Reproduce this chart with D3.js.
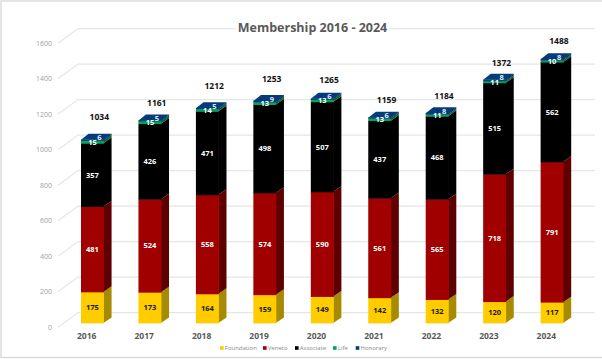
<!DOCTYPE html>
<html><head><meta charset="utf-8">
<script src="https://cdn.jsdelivr.net/npm/d3@7"></script>
<style>html,body{margin:0;padding:0;background:#fff}svg{display:block}text{font-family:"Open Sans",sans-serif}</style>
</head><body><div id="c"></div>
<script>
const years=["2016","2017","2018","2019","2020","2021","2022","2023","2024"];
const foundation=[175,173,164,159,149,142,132,120,117];
const veneto=[481,524,558,574,590,561,565,718,791];
const associate=[357,426,471,498,507,437,468,515,562];
const life=[15,15,14,13,13,13,11,11,10];
const honorary=[6,5,5,9,6,6,8,8,8];
const totals=[1034,1161,1212,1253,1265,1159,1184,1372,1488];
const yTicks=[0,200,400,600,800,1000,1200,1400,1600];
const seriesNames=["Foundation","Veneto","Associate","Life","Honorary"];

const W=602,H=359;
const palette={Foundation:["#ffcc00","#a68a00","#1a1a00"],Veneto:["#a00000","#5f0000","#fff"],Associate:["#000","#000","#fff"],Life:["#00a558","#00663a","#fff"],Honorary:["#063b7a","#04264f","#dfeaff"]};
const table=years.map((y,i)=>({year:y,Foundation:foundation[i],Veneto:veneto[i],Associate:associate[i],Life:life[i],Honorary:honorary[i]}));
const stacked=d3.stack().keys(seriesNames)(table);

const svg=d3.select("#c").append("svg").attr("width",W).attr("height",H);
svg.append("rect").attr("width",W).attr("height",H).attr("fill","#fff");
const frame=d3.path();frame.moveTo(1,H-1);frame.lineTo(1,1);frame.lineTo(W,1);frame.moveTo(1,H-1.5);frame.lineTo(W,H-1.5);
svg.append("path").attr("d",frame.toString()).attr("fill","none").attr("stroke","#dcdcdc").attr("stroke-width",1.5);

const x=d3.scaleBand().domain(years).range([81,563.6]).paddingInner(0.6).paddingOuter(0);
const y=d3.scaleLinear().domain([0,1600]).range([323,39]);
const depthX=7.6,depthY=-5.6;    // bar depth
const wallX=20,wallY=-14.6;      // chart wall depth
const wallRight=595;

// walls
const grid=svg.append("g").attr("fill","none").attr("stroke","#e6e6e6").attr("stroke-width",1.2);
yTicks.forEach(v=>{
  const p=d3.line()([[58,y(v)+4.2],[58+wallX,y(v)+4.2+wallY],[wallRight,y(v)+4.2+wallY]]);
  grid.append("path").attr("d",p);
});

// y axis labels
const yAxis=d3.axisLeft(y).tickValues(yTicks).tickSize(0).tickPadding(0).tickFormat(d3.format("d"));
const yg=svg.append("g").attr("transform","translate(52,4.2)").call(yAxis);
yg.select(".domain").remove();
yg.selectAll("text").attr("fill","#a0a0a0").style("font-size","7px");

// x axis labels
const xAxis=d3.axisBottom(x).tickSize(0).tickPadding(0);
const xg=svg.append("g").attr("transform","translate(-5.8,333)").call(xAxis);
xg.select(".domain").remove();
xg.selectAll("text").attr("fill","#595959").attr("font-weight",700).style("font-size","8.5px");

// bars
const poly=pts=>d3.line()(pts)+"Z";
const bars=svg.append("g");
stacked.forEach(s=>{
  const [front,side]=palette[s.key];
  const top=s.key==="Honorary";
  s.forEach((d,i)=>{
    const x0=x(years[i]),x1=x0+x.bandwidth(),yb=y(d[0]),yt=y(d[1]);
    bars.append("path").attr("d",poly([[x1-0.6,yb],[x1+depthX,yb+depthY],[x1+depthX,yt+depthY],[x1-0.6,yt]])).attr("fill",side);
    bars.append("rect").attr("x",x0).attr("y",yt).attr("width",x.bandwidth()).attr("height",yb-yt+0.4).attr("fill",front);
    if(top) bars.append("path").attr("d",poly([[x0,yt+0.4],[x0+depthX,yt+depthY],[x1+depthX,yt+depthY],[x1,yt+0.4]])).attr("fill",front);
  });
});

// value labels
const labels=svg.append("g").attr("text-anchor","middle").attr("font-weight",700).style("font-size","7.5px");
stacked.forEach(s=>{
  s.forEach((d,i)=>{
    const isH=s.key==="Honorary";
    labels.append("text")
      .attr("x",x(years[i])+x.bandwidth()/2+(isH?7:0))
      .attr("y",(y(d[0])+y(d[1]))/2+(isH?-2.5:0))
      .attr("dy","0.36em").attr("fill",palette[s.key][2]).text(d.data[s.key]);
  });
});

// totals (hand-placed in the source, so their lift varies)
const lift=[22.5,17,22,21.6,18.5,17,17,16.5,18];
svg.append("g").attr("text-anchor","middle").attr("font-weight",700).style("font-size","8.5px").attr("fill","#111")
  .selectAll("text").data(totals).join("text")
  .attr("x",(d,i)=>x(years[i])+x.bandwidth()/2+6.8)
  .attr("y",(d,i)=>y(d3.sum(stacked,s=>s[i].data[s.key]))-lift[i])
  .attr("dy","0.36em").text(d=>d);

// title
const title=svg.append("text").attr("x",312.5).attr("y",27).attr("dy","0.36em").attr("text-anchor","middle")
  .attr("fill","#595959").attr("font-weight",700).style("font-size","12.5px").text("Membership 2016 - 2024");
const bb=title.node().getBBox();
svg.insert("rect",()=>title.node()).attr("x",bb.x-2).attr("y",bb.y).attr("width",bb.width+4).attr("height",bb.height).attr("fill","#fff");

// legend
const legendX=[220,263,295,333,355.7];
const lg=svg.append("g").selectAll("g").data(seriesNames).join("g").attr("transform",(d,i)=>`translate(${legendX[i]},348)`);
lg.append("rect").attr("x",0).attr("y",-1.8).attr("width",3.6).attr("height",3.6).attr("fill",d=>palette[d][0]);
lg.append("text").attr("x",4.8).attr("dy","0.36em").attr("fill","#8a8a8a").style("font-size","6px").text(d=>d);
</script></body></html>
